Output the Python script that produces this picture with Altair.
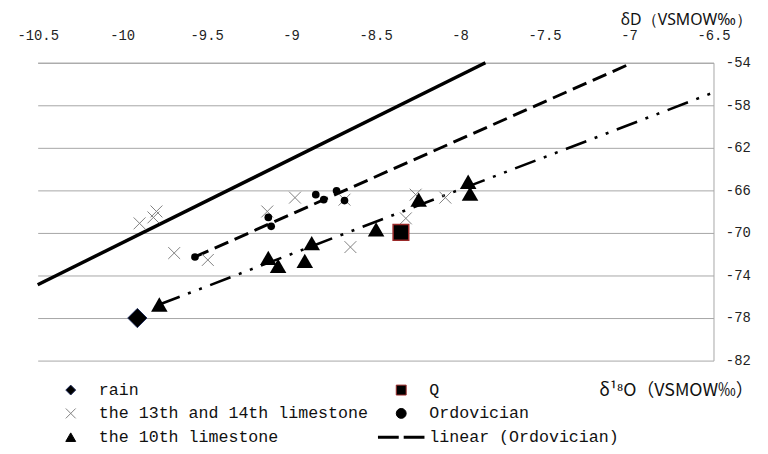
import altair as alt
import pandas as pd

# ---------------- data ----------------
# legend order (column by column): rain, 13th/14th, 10th | Q, Ordovician, linear
series_names = ["rain", "the 13th and 14th limestone", "the 10th limestone",
                "Q", "Ordovician", "linear (Ordovician)"]

rain_x = [-9.91]
rain_y = [-78.0]

q_x = [-8.35]
q_y = [-69.95]

lime1314_x = [-9.897, -9.815, -9.797, -9.692, -9.493, -9.141, -8.977, -8.684,
              -8.649, -8.321, -8.263, -8.087]
lime1314_y = [-69.10, -68.54, -67.98, -71.89, -72.54, -67.98, -66.68, -66.87,
              -71.33, -68.63, -66.40, -66.68]

ordo_x = [-9.569, -9.135, -9.118, -8.854, -8.807, -8.731, -8.684]
ordo_y = [-72.26, -68.54, -69.38, -66.40, -66.87, -66.03, -66.96]

lime10_x = [-9.780, -9.135, -9.077, -8.919, -8.878, -8.497, -8.245, -7.952, -7.941]
lime10_y = [-76.73, -72.35, -73.10, -72.63, -70.96, -69.66, -66.87, -65.19, -66.31]

# reference lines (end points)
mwl_x = [-10.5, -7.85]
mwl_y = [-74.87, -54.0]
ordo_fit_x = [-9.57, -6.98]
ordo_fit_y = [-72.26, -54.0]
lime10_fit_x = [-9.78, -6.5]
lime10_fit_y = [-76.73, -56.8]

x_ticks = [-10.5, -10, -9.5, -9, -8.5, -8, -7.5, -7, -6.5]
y_ticks = [-54, -58, -62, -66, -70, -74, -78, -82]

# ---------------- tables ----------------
def table(name, xs, ys):
    return pd.DataFrame({"series": [name] * len(xs), "x": xs, "y": ys})

rain_df = table("rain", rain_x, rain_y)
q_df = table("Q", q_x, q_y)
lime1314_df = table("the 13th and 14th limestone", lime1314_x, lime1314_y)
ordo_df = table("Ordovician", ordo_x, ordo_y)
lime10_df = table("the 10th limestone", lime10_x, lime10_y)

mwl = pd.DataFrame({"x": mwl_x, "y": mwl_y})
ordo_fit = pd.DataFrame({"x": ordo_fit_x, "y": ordo_fit_y})
lime10_fit = pd.DataFrame({"x": lime10_fit_x, "y": lime10_fit_y})

GRID = "#a6a6a6"
TICKFONT = "Liberation Mono"
TITLEFONT = "Noto Sans CJK SC"

x_axis = alt.Axis(
    orient="top", values=x_ticks, labelExpr="'' + datum.value",
    grid=False, ticks=False, domain=True, domainColor=GRID, domainWidth=1,
    labelPadding=21, labelFont=TICKFONT, labelFontSize=14, labelColor="#222222",
    labelFlush=False, labelOverlap=False,
    title="δ¹⁸O（VSMOW‰）", titleX=645, titleY=331, titleAngle=0,
    titleAlign="center", titleBaseline="middle", titleFont=TITLEFONT,
    titleFontSize=18, titleFontWeight="normal", titleColor="#111111",
)
y_axis = alt.Axis(
    orient="right", values=y_ticks, labelExpr="'' + datum.value",
    grid=True, gridColor=GRID, gridWidth=1, ticks=False, domain=True,
    domainColor=GRID, domainWidth=1, labelPadding=12, labelFont=TICKFONT,
    labelFontSize=14, labelColor="#222222", labelFlush=False, labelOverlap=False,
    labelAlign="left", labelBaseline="middle",
    title="δD（VSMOW‰）", titleX=-28, titleY=-44, titleAngle=0,
    titleAlign="center", titleBaseline="middle", titleFont="Noto Sans",
    titleFontSize=16, titleFontWeight="normal", titleColor="#111111",
)
x_scale = alt.Scale(domain=[-10.5, -6.5], nice=False, zero=False)
y_scale = alt.Scale(domain=[-82, -54], nice=False, zero=False)

def xe():
    return alt.X("x:Q", scale=x_scale, axis=x_axis)

def ye():
    return alt.Y("y:Q", scale=y_scale, axis=y_axis)

mwl_line = alt.Chart(mwl).mark_line(color="black", strokeWidth=3.5).encode(x=xe(), y=ye())
ordo_line = alt.Chart(ordo_fit).mark_line(
    color="black", strokeWidth=3, strokeDash=[15, 7], strokeCap="butt"
).encode(x=xe(), y=ye())
lime10_line = alt.Chart(lime10_fit).mark_line(
    color="black", strokeWidth=2.6, strokeDash=[22, 9, 3, 9, 3, 9], strokeCap="butt"
).encode(x=xe(), y=ye())

XPATH = "M-1,-1L1,1M-1,1L1,-1"
DASHPATH = ("M-4.7,-0.3L-0.5,-0.3L-0.5,0.3L-4.7,0.3Z"
            "M0.5,-0.3L4.7,-0.3L4.7,0.3L0.5,0.3Z")

legend = alt.Legend(
    title=None, orient="none", legendX=25, legendY=322, columns=2,
    labelFont=TICKFONT, labelFontSize=16.8, labelColor="#111111", labelLimit=400,
    labelOffset=20, rowPadding=6, columnPadding=7, symbolSize=100, padding=0,
    symbolStrokeWidth=1,
)

shape_scale = alt.Scale(domain=series_names,
                        range=["diamond", XPATH, "triangle-up", "square", "circle", DASHPATH])
fill_scale = alt.Scale(domain=series_names,
                       range=["#000000", "transparent", "#000000", "#000000", "#000000", "#000000"])
stroke_scale = alt.Scale(domain=series_names,
                         range=["#1f2d5a", "#7f7f7f", "#000000", "#9a2a2a", "#000000", "transparent"])

def point_layer(df, size, sw):
    return alt.Chart(df).mark_point(opacity=1, size=size, strokeWidth=sw).encode(
        x=xe(), y=ye(),
        shape=alt.Shape("series:N", scale=shape_scale, legend=legend),
        fill=alt.Fill("series:N", scale=fill_scale, legend=legend),
        stroke=alt.Stroke("series:N", scale=stroke_scale, legend=legend),
    )

layers = [
    mwl_line, ordo_line, lime10_line,
    point_layer(lime1314_df, 144, 1),
    point_layer(ordo_df, 60, 0),
    point_layer(lime10_df, 280, 0),
    point_layer(rain_df, 380, 1),
    point_layer(q_df, 250, 1.5),
]

chart = alt.layer(*layers).properties(
    width=683, height=301,
    padding={"left": 30, "top": 53, "right": 47, "bottom": 85},
    autosize=alt.AutoSizeParams(type="none"),
    background="white",
).configure_view(stroke=None)

chart.save("out.html", embed_options={"renderer": "svg", "actions": False})
